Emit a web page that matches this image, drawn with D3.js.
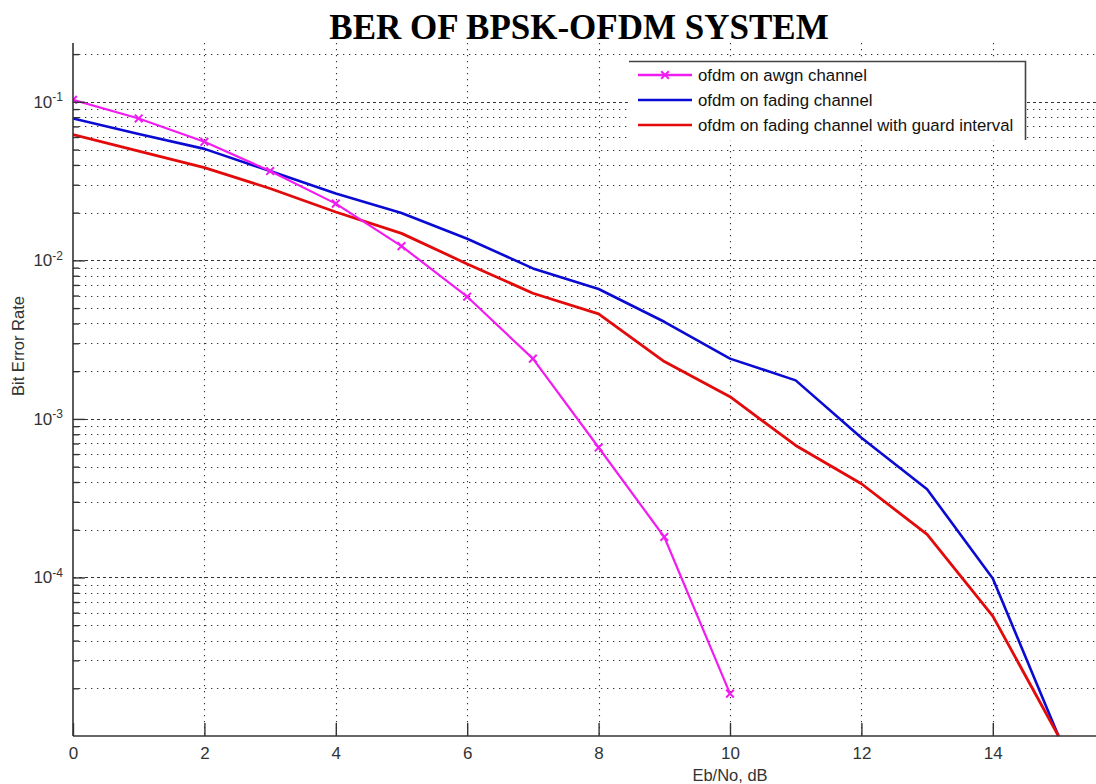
<!DOCTYPE html>
<html>
<head>
<meta charset="utf-8">
<script src="https://cdn.jsdelivr.net/npm/d3@7"></script>
<style>
  html, body { margin: 0; padding: 0; background: #fff; }
  svg { display: block; }
  text { font-family: "Liberation Sans", Arial, sans-serif; fill: #222; }
</style>
</head>
<body>
<svg id="chart" width="1096" height="784"></svg>
<script>
// Eb/No in dB
const snrAwgn = [0, 1, 2, 3, 4, 5, 6, 7, 8, 9, 10];
const snrFading = [0, 1, 2, 3, 4, 5, 6, 7, 8, 9, 10, 11, 12, 13, 14, 15];

// Bit error rates
const berAwgn = [0.103, 0.0785, 0.056, 0.0366, 0.0228, 0.0123, 0.0059, 0.0024, 0.00066, 0.00018, 0.0000185];
const berFading = [0.0785, 0.0627, 0.0505, 0.0366, 0.0264, 0.0199, 0.0137, 0.0089, 0.0066, 0.0041, 0.0024, 0.00175, 0.00076, 0.00036, 0.0000985, 0.00001];
const berGuard = [0.0622, 0.0489, 0.0385, 0.0284, 0.0202, 0.0148, 0.0095, 0.0062, 0.0046, 0.0023, 0.00138, 0.00068, 0.00039, 0.000187, 0.000057, 0.00001];

const xTicks = [0, 2, 4, 6, 8, 10, 12, 14];
const yMajor = [1e-5, 1e-4, 1e-3, 1e-2, 1e-1];
const yExponents = ["-5", "-4", "-3", "-2", "-1"];

const seriesNames = ["ofdm on awgn channel", "ofdm on fading channel", "ofdm on fading channel with guard interval"];
const seriesColors = ["#f01cf0", "#0a0ad2", "#e20a0a"];

const svg = d3.select("#chart");
const plotLeft = 73, plotBottom = 736, plotTop = 43;

const x = d3.scaleLinear().domain([0, 20]).range([plotLeft, plotLeft + 20 * 65.7]);
const y = d3.scaleLog().domain([1e-5, 0.235]).range([plotBottom, plotTop]);

// minor decade values 2..9 x 10^k
const yMinor = [];
for (let k = -5; k <= -1; k++) {
  for (let m = 2; m <= 9; m++) {
    const v = m * Math.pow(10, k);
    if (v <= 0.235) yMinor.push(v);
  }
}

// Title
svg.append("text")
  .attr("x", 579).attr("y", 39)
  .attr("text-anchor", "middle")
  .style("font-family", "'Liberation Serif', 'Times New Roman', serif")
  .style("font-weight", "bold")
  .style("font-size", "35px")
  .style("fill", "#000")
  .text("BER OF BPSK-OFDM SYSTEM");

// Grid
const grid = svg.append("g").attr("stroke", "#333").attr("stroke-width", 1.1).attr("fill", "none");
grid.selectAll("line.vx").data(xTicks.filter(d => d > 0)).join("line")
  .attr("x1", d => Math.round(x(d)) + 0.5).attr("x2", d => Math.round(x(d)) + 0.5)
  .attr("y1", plotTop).attr("y2", plotBottom)
  .attr("stroke-dasharray", "1.3,4.7");
grid.selectAll("line.hmin").data(yMinor).join("line")
  .attr("x1", plotLeft).attr("x2", 1096)
  .attr("y1", d => Math.round(y(d)) + 0.5).attr("y2", d => Math.round(y(d)) + 0.5)
  .attr("stroke-dasharray", "1.3,4.7");
grid.selectAll("line.hmaj").data(yMajor.filter(d => d > 1e-5)).join("line")
  .attr("x1", plotLeft).attr("x2", 1096)
  .attr("y1", d => Math.round(y(d)) + 0.5).attr("y2", d => Math.round(y(d)) + 0.5)
  .attr("stroke-dasharray", "3,3");

// Curves
svg.append("clipPath").attr("id", "plotArea")
  .append("rect").attr("x", plotLeft).attr("y", plotTop)
  .attr("width", 1096 - plotLeft).attr("height", plotBottom - plotTop + 1);

const line = d3.line().x(d => x(d[0])).y(d => y(d[1]));
const curves = svg.append("g").attr("clip-path", "url(#plotArea)").attr("fill", "none");

curves.append("path")
  .datum(snrFading.map((s, i) => [s, berFading[i]]))
  .attr("d", line).attr("stroke", seriesColors[1]).attr("stroke-width", 2.6).attr("stroke-linejoin", "round");
curves.append("path")
  .datum(snrFading.map((s, i) => [s, berGuard[i]]))
  .attr("d", line).attr("stroke", seriesColors[2]).attr("stroke-width", 2.8).attr("stroke-linejoin", "round");
curves.append("path")
  .datum(snrAwgn.map((s, i) => [s, berAwgn[i]]))
  .attr("d", line).attr("stroke", seriesColors[0]).attr("stroke-width", 2.2).attr("stroke-linejoin", "round");

// x-shaped markers on the awgn curve
const xMark = d3.symbol().type(d3.symbolX).size(40);
curves.selectAll("path.mk").data(snrAwgn.map((s, i) => [s, berAwgn[i]])).join("path")
  .attr("transform", d => `translate(${x(d[0])},${y(d[1])})`)
  .attr("d", xMark).attr("stroke", seriesColors[0]).attr("stroke-width", 2);

// Axes
const axisColor = "#333";
const yAxisMinor = svg.append("g").attr("transform", `translate(${plotLeft},0)`)
  .call(d3.axisLeft(y).tickValues(yMinor).tickSize(-6).tickFormat(""));
const yAxis = svg.append("g").attr("transform", `translate(${plotLeft},0)`)
  .call(d3.axisLeft(y).tickValues(yMajor.filter(d => d > 1e-5)).tickSize(-12).tickPadding(10).tickFormat(() => "10"));
yAxis.selectAll(".tick text")
  .style("font-size", "17px").style("fill", "#333")
  .each(function (d) {
    const i = yMajor.indexOf(d);
    d3.select(this).append("tspan")
      .attr("dy", "-0.55em")
      .style("font-size", "12px")
      .text(yExponents[i]);
  });
[yAxisMinor, yAxis].forEach(g => {
  g.select(".domain").remove();
  g.selectAll(".tick line").attr("stroke", axisColor).attr("stroke-width", 1.4);
});
svg.append("line").attr("x1", plotLeft).attr("x2", plotLeft).attr("y1", plotTop).attr("y2", plotBottom)
  .attr("stroke", axisColor).attr("stroke-width", 1.6);

const xAxis = svg.append("g").attr("transform", `translate(0,${plotBottom})`)
  .call(d3.axisBottom(x).tickValues(xTicks).tickSize(-13).tickPadding(11).tickFormat(d3.format("d")));
xAxis.select(".domain").remove();
xAxis.selectAll(".tick line").attr("stroke", axisColor).attr("stroke-width", 1.4);
xAxis.selectAll(".tick text").style("font-size", "17px").style("fill", "#333");
svg.append("line").attr("x1", plotLeft).attr("x2", 1096).attr("y1", plotBottom).attr("y2", plotBottom)
  .attr("stroke", axisColor).attr("stroke-width", 1.6);

// Axis labels
svg.append("text")
  .attr("x", x(10)).attr("y", 781)
  .attr("text-anchor", "middle")
  .style("font-size", "16.5px").style("fill", "#333")
  .text("Eb/No, dB");
svg.append("text")
  .attr("transform", "translate(24,346) rotate(-90)")
  .attr("text-anchor", "middle")
  .style("font-size", "16.5px").style("fill", "#333")
  .text("Bit Error Rate");

// Legend
const lg = svg.append("g");
lg.append("rect").attr("x", 629).attr("y", 61).attr("width", 396).attr("height", 79).attr("fill", "#fff");
lg.append("path").attr("d", "M629,61.5H1025.5V140").attr("fill", "none").attr("stroke", "#444").attr("stroke-width", 1.6);
seriesNames.forEach((name, i) => {
  const ly = 75 + i * 25;
  lg.append("line").attr("x1", 638).attr("x2", 692).attr("y1", ly).attr("y2", ly)
    .attr("stroke", seriesColors[i]).attr("stroke-width", 2.6);
  if (i === 0) {
    lg.append("path").attr("transform", `translate(665,${ly})`).attr("d", xMark)
      .attr("stroke", seriesColors[0]).attr("stroke-width", 2);
  }
  lg.append("text").attr("x", 698).attr("y", ly + 6)
    .style("font-size", "16.8px").style("fill", "#111")
    .text(name);
});
</script>
</body>
</html>
